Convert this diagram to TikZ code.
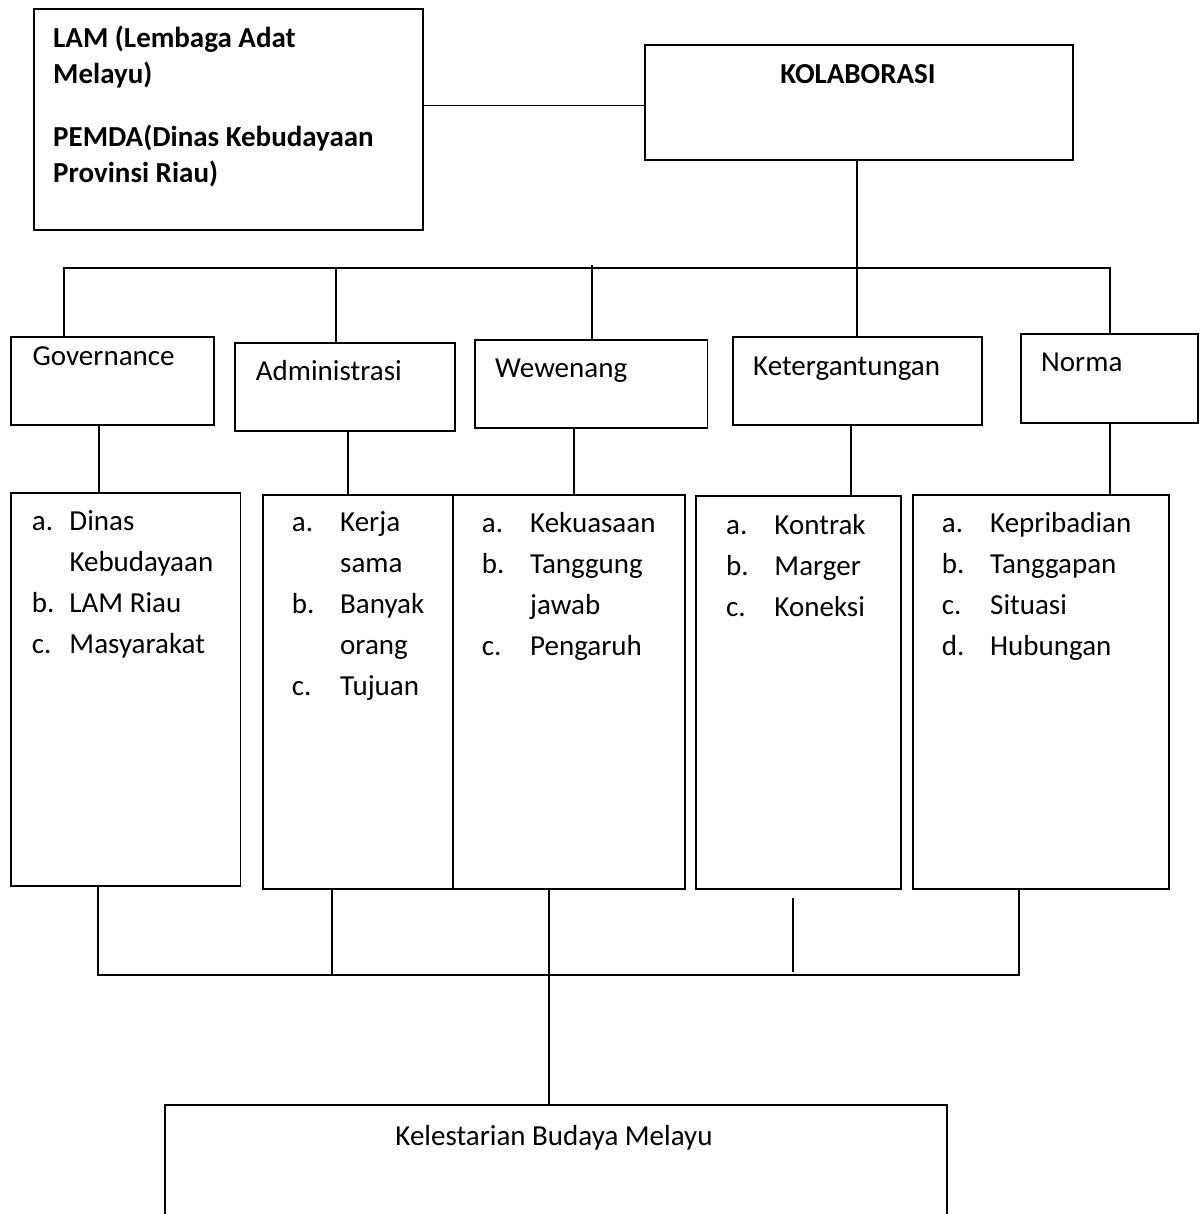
\documentclass[tikz,border=0pt]{standalone}
\usepackage{fontspec}
\setmainfont{Carlito}
\newcommand\itmA[1]{\makebox[37.6pt][l]{#1}}
\newcommand\itmB[1]{\makebox[48.3pt][l]{#1}}
\begin{document}
\begin{tikzpicture}[x=1pt,y=-1pt,
  box/.style={draw=black, line width=1.8pt, rectangle, inner sep=0pt, anchor=north west},
  lbl/.style={anchor=base west, inner sep=0pt, font=\fontsize{29}{41}\selectfont},
  conn/.style={draw=black, line width=1.6pt}]
\useasboundingbox (0,0) rectangle (1200,1214);
\fill[white] (0,0) rectangle (1200,1214);

% boxes
\node[box, minimum width=389pt, minimum height=221pt] (lam) at (33,8) {};
\node[box, minimum width=428pt, minimum height=115pt] (kol) at (644,44) {};
\node[box, minimum width=202.7pt, minimum height=88pt] (govh) at (10,336) {};
\node[box, minimum width=220pt, minimum height=88.3pt] (admh) at (234,341.7) {};
\node[box, minimum width=232.5pt, minimum height=88pt] (wewh) at (474,339) {};
\node[box, minimum width=248.7pt, minimum height=88pt] (keth) at (732,336) {};
\node[box, minimum width=177pt, minimum height=89pt] (norh) at (1020,333) {};
\node[box, minimum width=229.5pt, minimum height=393pt] (govl) at (10,492) {};
\node[box, minimum width=190pt, minimum height=394pt] (adml) at (262,494) {};
\node[box, minimum width=232pt, minimum height=394pt] (wewl) at (452,494) {};
\node[box, minimum width=205pt, minimum height=393pt] (ketl) at (695,495) {};
\node[box, minimum width=256pt, minimum height=394pt] (norl) at (912,494) {};
\node[box, minimum width=782pt, minimum height=140pt] (kel) at (164,1104) {};

% texts
\node[lbl, font=\bfseries\fontsize{29}{35.4}\selectfont] (lamtxt) at (53,47.7)
  {\begin{tabular}[t]{@{}l@{}}LAM (Lembaga Adat\\ Melayu)\\[28.3pt] PEMDA(Dinas Kebudayaan\\ Provinsi Riau)\end{tabular}};
\node[lbl, anchor=base, font=\bfseries\fontsize{29}{41}\selectfont] (koltxt) at (858,83.3) {KOLABORASI};
\node[lbl] (govt) at (32.5,365) {Governance};
\node[lbl] (admt) at (255.7,380) {Administrasi};
\node[lbl] (wewt) at (495,377.7) {Wewenang};
\node[lbl] (kett) at (753,375) {Ketergantungan};
\node[lbl] (nort) at (1041,371.7) {Norma};

\node[lbl] (govlt) at (31.7,530) {\begin{tabular}[t]{@{}l@{}}
  \itmA{a.}Dinas\\ \itmA{}Kebudayaan\\ \itmA{b.}LAM Riau\\ \itmA{c.}Masyarakat\end{tabular}};
\node[lbl] (admlt) at (291.7,531.7) {\begin{tabular}[t]{@{}l@{}}
  \itmB{a.}Kerja\\ \itmB{}sama\\ \itmB{b.}Banyak\\ \itmB{}orang\\ \itmB{c.}Tujuan\end{tabular}};
\node[lbl] (wewlt) at (481.7,532.7) {\begin{tabular}[t]{@{}l@{}}
  \itmB{a.}Kekuasaan\\ \itmB{b.}Tanggung\\ \itmB{}jawab\\ \itmB{c.}Pengaruh\end{tabular}};
\node[lbl] (ketlt) at (726,534) {\begin{tabular}[t]{@{}l@{}}
  \itmB{a.}Kontrak\\ \itmB{b.}Marger\\ \itmB{c.}Koneksi\end{tabular}};
\node[lbl] (norlt) at (941.7,532.7) {\begin{tabular}[t]{@{}l@{}}
  \itmB{a.}Kepribadian\\ \itmB{b.}Tanggapan\\ \itmB{c.}Situasi\\ \itmB{d.}Hubungan\end{tabular}};
\node[lbl, anchor=base] (keltxt) at (554,1145) {Kelestarian Budaya Melayu};

% connectors
\coordinate (c1) at (0,105.7);
\draw[conn] (lam.east |- c1) -- (kol.west |- c1);

\coordinate (barL) at (64,268);
\coordinate (barR) at (1110,268);
\draw[conn] (barL |- govh.north) -- (barL) -- (barR) -- (barR |- norh.north);
\draw[conn] (keth.north |- kol.south) -- (keth.north);
\coordinate (ta) at (336,268);
\draw[conn] (ta) -- (ta |- admh.north);
\coordinate (tw) at (592,265);
\draw[conn] (tw) -- (tw |- wewh.north);

\coordinate (d1) at (99,0);
\coordinate (d2) at (348,0);
\coordinate (d3) at (574,0);
\coordinate (d4) at (851,0);
\coordinate (d5) at (1110,0);
\draw[conn] (d1 |- govh.south) -- (d1 |- govl.north);
\draw[conn] (d2 |- admh.south) -- (d2 |- adml.north);
\draw[conn] (d3 |- wewh.south) -- (d3 |- wewl.north);
\draw[conn] (d4 |- keth.south) -- (d4 |- ketl.north);
\draw[conn] (d5 |- norh.south) -- (d5 |- norl.north);

\coordinate (bb) at (0,975);
\coordinate (b1) at (98,0);
\coordinate (b2) at (332,0);
\coordinate (b3) at (549,0);
\coordinate (b5) at (1019,0);
\draw[conn] (b1 |- govl.south) -- (b1 |- bb) -- (b5 |- bb) -- (b5 |- norl.south);
\draw[conn] (b2 |- adml.south) -- (b2 |- bb);
\draw[conn] (b3 |- wewl.south) -- (b3 |- kel.north);
\coordinate (f1) at (793,898);
\coordinate (f2) at (793,972);
\draw[conn] (f1) -- (f2);
\end{tikzpicture}
\end{document}
